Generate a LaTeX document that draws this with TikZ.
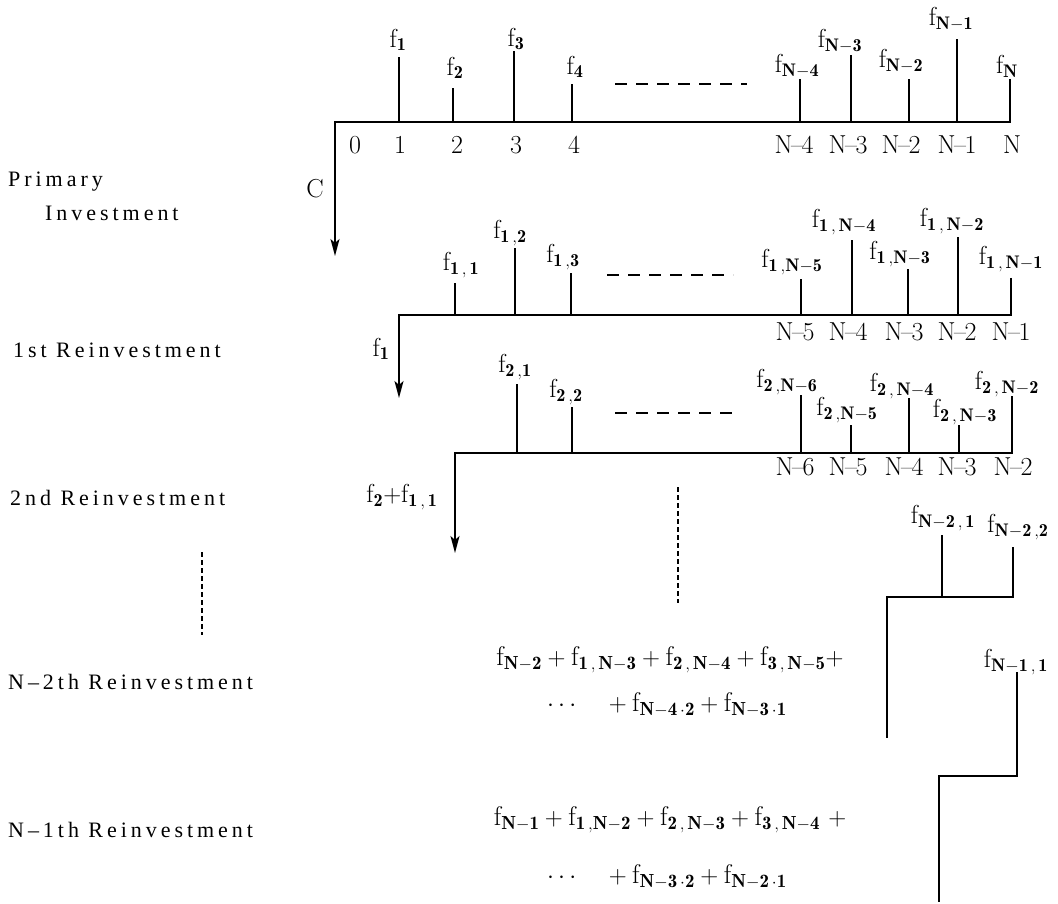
\documentclass[tikz,border=0pt]{standalone}
\usepackage{fontspec}
\usepackage{tikz}
\usetikzlibrary{arrows.meta}
\newfontfamily\rowfont[LetterSpace=18]{Liberation Serif}
\newcommand{\drawthick}{\draw[line width=1.8pt]}
\newcommand{\fsub}[1]{\ensuremath{\mathrm{f}_{\mathbf{#1}}}}
\newcommand{\Nm}[1]{N\kern-1.5pt--\kern-1.5pt#1}
\newcommand{\cashflow}[7]{
    \drawthick (#2,#3)--(#2,#4);
    \node[flowlbl] (#1) at (#5,#6) {\fsub{#7}};
}
\tikzset{
    flowlbl/.style={inner sep=0pt, font=\fontsize{26}{30}\selectfont},
    tnum/.style={inner sep=0pt, font=\fontsize{26}{30}\selectfont},
    rowlbl/.style={inner sep=0pt, anchor=west, font=\rowfont\fontsize{22}{26}\selectfont},
    sumlbl/.style={inner sep=0pt, font=\fontsize{27}{32}\selectfont},
    gap/.style={line width=1.6pt, dash pattern=on 12pt off 9pt},
    vgap/.style={line width=1.4pt, dash pattern=on 5pt off 3pt},
    tip/.style={-{Stealth[length=17pt,width=9pt,inset=4pt]}}
}

\begin{document}
\begin{tikzpicture}[x=1pt,y=-1pt]
\useasboundingbox (0,0) rectangle (1058,904);
\drawthick[tip] (1010,79)--(1010,122)--(335,122)--(335,256);
    \foreach \n/\x/\t/\lx/\ly/\s in {a/399/57/398/40/1, b/453/88/455/68/2, c/514/51/516/39/3, d/572/84/575/67/4,
        e/800/79/797/66/N-4, f/851/55/840/41/N-3, g/909/79/901/61/N-2, h/957/39/951/19/N-1}
        {\cashflow{p\n}{\x}{122}{\t}{\lx}{\ly}{\s}}
    \node[flowlbl] (pN) at (1007,66) {\fsub{N}};
    \foreach \x/\lab in {355/0, 400/1, 457/2, 516/3, 574/4, 794/\Nm{4}, 848/\Nm{3}, 901/\Nm{2}, 957/\Nm{1}, 1012/N}
        \node[tnum] at (\x,145) {\lab};
    \draw[gap] (615,84)--(747,84);
    \node[tnum] (cost) at (315,189) {C};
\drawthick[tip] (1011,278)--(1011,315)--(399,315)--(399,398);
    \foreach \n/\x/\t/\lx/\ly/\s in {a/455/283/461/265/{1\,,\,1}, b/515/248/510/233/{1\,,2}, c/571/273/563/257/{1\,,3},
        e/801/279/792/262/{1\,,N-5}, f/852/240/844/222/{1\,,\,N-4}, g/908/269/900/254/{1\,,N-3}, h/958/237/952/221/{1\,,\,N-2}}
        {\cashflow{q\n}{\x}{315}{\t}{\lx}{\ly}{\s}}
    \node[flowlbl] (qN) at (1011,259) {\fsub{1\,,\,N-1}};
    \foreach \x/\lab in {795/\Nm{5}, 848/\Nm{4}, 904/\Nm{3}, 957/\Nm{2}, 1011/\Nm{1}}
        \node[tnum] at (\x,332) {\lab};
    \draw[gap] (607,275)--(733,275);
    \node[flowlbl] (back1) at (381,349) {\fsub{1}};
\drawthick[tip] (1012,396)--(1012,453)--(455,453)--(455,553);
    \foreach \n/\x/\t/\lx/\ly/\s in {a/517/384/515/367/{2\,,1}, b/572/407/566/392/{2\,,2},
        e/801/395/787/382/{2\,,N-6}, f/851/425/847/410/{2\,,N-5}, g/909/398/902/386/{2\,,\,N-4}, h/959/425/965/412/{2\,,\,N-3}}
        {\cashflow{r\n}{\x}{453}{\t}{\lx}{\ly}{\s}}
    \node[flowlbl] (rN) at (1007,384) {\fsub{2\,,\,N-2}};
    \foreach \x/\lab in {795/\Nm{6}, 848/\Nm{5}, 904/\Nm{4}, 957/\Nm{3}, 1013/\Nm{2}}
        \node[tnum] at (\x,467) {\lab};
    \draw[gap] (615,413)--(735,413);
    \node[flowlbl] (back2) at (402,497) {$\mathrm{f}_{\mathbf{2}}{+}\mathrm{f}_{\mathbf{1\,,\,1}}$};
\draw[vgap] (678,487)--(678,603);
\draw[vgap] (202,552)--(202,635);
\drawthick (1013,547)--(1013,597)--(887,597)--(887,738);
    \cashflow{s1}{942}{597}{535}{943}{518}{N-2\,,\,1}
    \node[flowlbl] (s2) at (1018,527) {\fsub{N-2\,,2}};
    \node[sumlbl] (sumA) at (670,660) {$\fsub{N-2}+\fsub{1\,,\,N-3}+\fsub{2\,,\,N-4}+\fsub{3\,,\,N-5}+$};
    \node[sumlbl, anchor=west] (sumB) at (547,705) {$\cdots\quad+\fsub{N-4\,\cdot2}+\fsub{N-3\,\cdot1}$};
\drawthick (1017,672)--(1017,776)--(939,776)--(939,902);
    \node[flowlbl] (t1) at (1016,662) {\fsub{N-1\,,\,1}};
    \node[sumlbl] (sumC) at (670,820) {$\fsub{N-1}+\fsub{1\,,N-2}+\fsub{2\,,\,N-3}+\fsub{3\,,\,N-4}\ +$};
    \node[sumlbl, anchor=west] (sumD) at (547,877) {$\cdots\quad+\fsub{N-3\,\cdot2}+\fsub{N-2\,\cdot1}$};
\node[rowlbl] (prim) at (8,182) {Primary};
\node[rowlbl] (inv) at (45,213) {Investment};
\node[rowlbl] (re1) at (13,350) {1st Reinvestment};
\node[rowlbl] (re2) at (10,498) {2nd Reinvestment};
\node[rowlbl] (reA) at (8,682) {N\textendash 2th Reinvestment};
\node[rowlbl] (reB) at (8,830) {N\textendash 1th Reinvestment};
\end{tikzpicture}
\end{document}
